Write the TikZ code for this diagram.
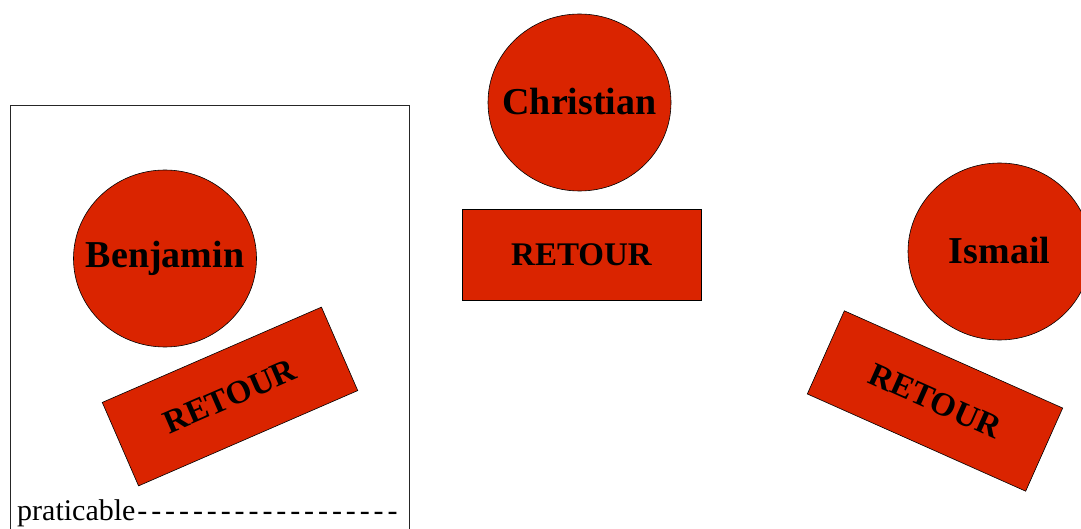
\documentclass[tikz,border=0pt]{standalone}
\usepackage{fontspec}
\setmainfont{Liberation Serif}
\usetikzlibrary{shapes.geometric}
\definecolor{rd}{RGB}{218,36,0}
\newcommand{\dsh}{\makebox[13.9pt]{-}}
\newcommand{\zw}[1]{\makebox[0pt]{#1}}
\begin{document}
\begin{tikzpicture}[x=1pt,y=-1pt,
  person/.style={ellipse, draw=black, line width=0.6pt, fill=rd, minimum width=183pt, minimum height=177pt, inner sep=0pt, font=\fontsize{38}{40}\selectfont\bfseries},
  retour/.style={rectangle, draw=black, line width=0.6pt, fill=rd, minimum width=239pt, minimum height=91pt, inner sep=0pt, font=\fontsize{33}{35}\selectfont\bfseries}]
\useasboundingbox (0,0) rectangle (1081,529);
\draw[line width=0.8pt, draw=black!85] (10.5,540) -- (10.5,105) -- (409,105) -- (409,540);
\node[person] (benjamin) at (165,258.5) {\zw{\raisebox{3pt}{Benjamin}}};
\node[person] (christian) at (579.5,102.5) {\zw{\raisebox{3pt}{Christian}}};
\node[person] (ismail) at (999.5,251.5) {\zw{\raisebox{3pt}{Ismail}}};
\node[retour, rotate=23.5] (rb) at (230,396.5) {RETOUR};
\node[retour] (rc) at (581.5,254.5) {RETOUR};
\node[retour, rotate=-24] (ri) at (935,401) {RETOUR};
\node[anchor=base west, inner sep=0pt, font=\fontsize{30}{32}\selectfont] (prat) at (17,520) {praticable\dsh\dsh\dsh\dsh\dsh\dsh\dsh\dsh\dsh\dsh\dsh\dsh\dsh\dsh\dsh\dsh\dsh\dsh\dsh};
\end{tikzpicture}
\end{document}
